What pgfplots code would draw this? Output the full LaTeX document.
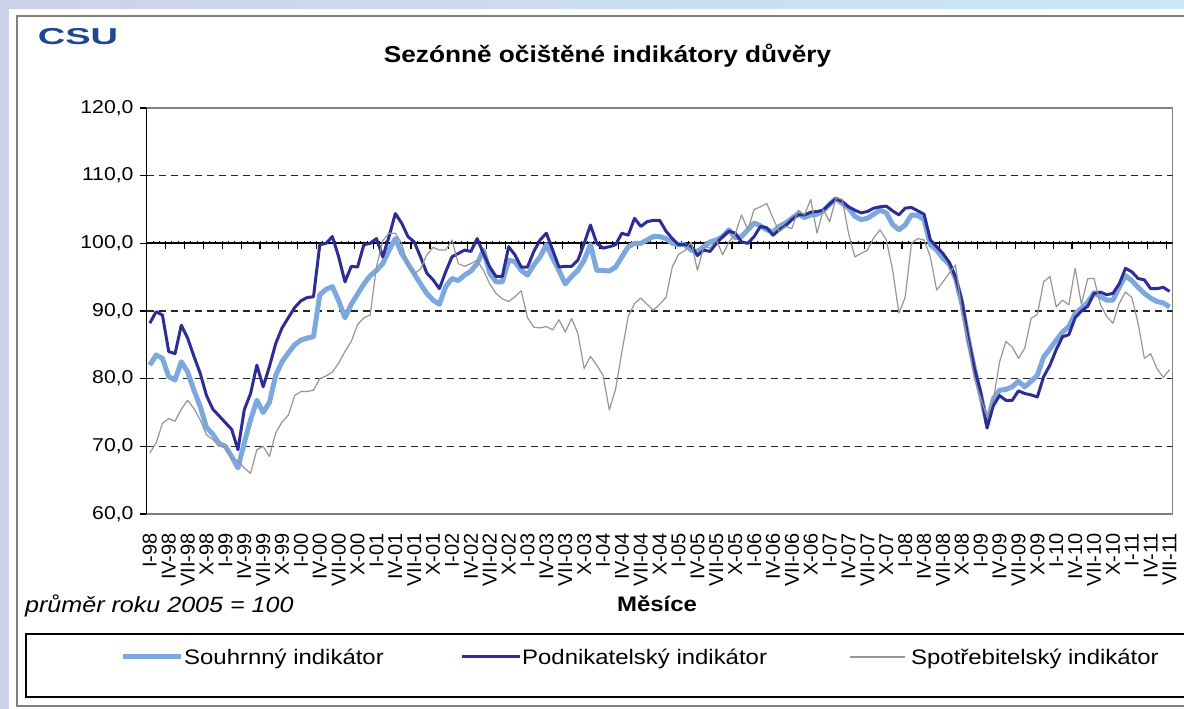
\documentclass[border=0pt]{standalone}
\usepackage{fontspec}
\setmainfont{Liberation Sans}[FakeStretch=1.14]
\newfontfamily\plainfont{Liberation Sans}
\usepackage{graphicx}
\usepackage{pgfplots}
\pgfplotsset{compat=1.18}
\usepackage{pgfplotstable}

\definecolor{cS}{RGB}{124,168,222}
\definecolor{cP}{RGB}{45,45,150}
\definecolor{cC}{RGB}{150,150,150}
\definecolor{bgA}{RGB}{205,210,235}
\definecolor{bgB}{RGB}{200,232,246}
\definecolor{logoblue}{RGB}{30,70,145}
\definecolor{frame}{RGB}{128,128,128}

\pgfplotstableread{
m S P C
0 82.0 88.2 69.0
1 83.5 89.9 70.5
2 83.0 89.4 73.4
3 80.3 84.0 74.1
4 79.8 83.7 73.7
5 82.5 87.9 75.5
6 81.0 86.0 76.8
7 78.3 83.3 75.6
8 75.9 80.8 73.9
9 72.8 77.5 71.7
10 71.8 75.5 71.0
11 70.4 74.5 70.0
12 70.0 73.5 70.0
13 68.5 72.5 68.2
14 66.8 69.5 67.9
15 70.5 75.4 66.8
16 73.9 77.8 66.0
17 76.8 82.0 69.5
18 75.0 78.8 70.0
19 76.5 81.8 68.5
20 80.5 85.2 72.0
21 82.5 87.5 73.6
22 83.8 89.0 74.6
23 85.0 90.5 77.5
24 85.7 91.5 78.1
25 86.0 92.0 78.1
26 86.2 92.1 78.3
27 92.4 99.8 80.0
28 93.2 100.0 80.4
29 93.6 101.0 81.0
30 91.5 98.0 82.3
31 89.0 94.3 84.0
32 91.0 96.6 85.5
33 92.5 96.5 88.0
34 94.0 99.8 89.0
35 95.2 100.0 89.4
36 96.0 100.7 96.5
37 97.0 98.0 100.4
38 99.0 101.0 101.5
39 100.7 104.4 101.5
40 98.5 103.0 100.0
41 97.0 101.0 96.6
42 95.5 100.2 95.5
43 94.0 98.0 96.2
44 92.6 95.6 98.3
45 91.6 94.6 99.4
46 91.0 93.3 99.0
47 93.6 95.8 99.0
48 94.8 98.0 100.5
49 94.5 98.5 97.0
50 95.3 99.0 96.6
51 95.9 98.8 97.0
52 97.0 100.7 97.5
53 99.0 98.5 96.0
54 95.6 96.5 94.0
55 94.3 95.1 92.6
56 94.3 95.1 91.8
57 97.5 99.5 91.4
58 97.3 98.3 92.1
59 96.0 96.5 93.0
60 95.3 96.5 89.0
61 96.8 98.8 87.6
62 98.0 100.5 87.5
63 99.8 101.5 87.7
64 97.8 99.0 87.2
65 96.0 96.5 88.7
66 94.0 96.6 86.9
67 95.1 96.6 88.9
68 96.0 97.5 86.7
69 97.5 100.0 81.5
70 99.8 102.7 83.3
71 96.0 100.0 82.0
72 96.0 99.3 80.5
73 95.9 99.5 75.4
74 96.5 99.8 78.5
75 98.0 101.5 84.0
76 99.5 101.2 89.2
77 100.0 103.7 91.1
78 100.0 102.5 91.9
79 100.5 103.2 91.0
80 101.0 103.4 90.1
81 101.0 103.4 91.0
82 100.7 101.8 92.0
83 100.0 100.7 96.5
84 99.8 99.8 98.4
85 99.8 99.8 98.9
86 99.0 99.6 100.2
87 98.8 98.2 96.0
88 99.5 99.0 99.5
89 100.2 98.8 99.3
90 100.5 100.0 100.5
91 101.0 101.0 98.3
92 102.0 101.8 100.2
93 100.8 101.5 101.4
94 101.0 100.2 104.2
95 102.0 100.0 102.0
96 103.0 101.0 105.0
97 102.6 102.5 105.4
98 102.0 102.3 105.9
99 101.7 101.2 103.7
100 102.5 102.0 101.7
101 103.0 102.6 102.5
102 103.7 103.5 102.2
103 104.4 104.2 104.9
104 103.8 104.2 104.2
105 104.2 104.6 106.5
106 104.3 104.7 101.5
107 104.8 104.9 105.0
108 105.8 105.8 103.2
109 106.6 106.6 106.7
110 105.9 106.2 106.5
111 105.2 105.4 101.5
112 104.0 104.9 98.0
113 103.5 104.5 98.5
114 103.7 104.7 99.0
115 104.3 105.2 100.8
116 104.9 105.4 102.0
117 104.5 105.5 100.5
118 102.8 104.8 96.1
119 102.0 104.2 89.7
120 102.7 105.2 92.0
121 104.2 105.3 100.0
122 104.1 104.8 100.7
123 103.5 104.3 100.5
124 99.8 100.5 98.0
125 99.0 99.5 93.1
126 97.8 98.5 94.3
127 96.9 97.2 95.6
128 94.8 95.0 96.8
129 91.1 91.6 90.0
130 86.0 86.0 85.5
131 81.5 81.5 80.0
132 77.5 78.0 77.1
133 73.4 72.7 74.3
134 77.0 76.0 76.8
135 78.3 77.5 82.5
136 78.4 76.8 85.5
137 78.8 76.8 84.7
138 79.6 78.2 83.0
139 78.8 77.8 84.5
140 79.6 77.6 88.9
141 80.5 77.3 89.5
142 83.2 80.3 94.3
143 84.4 82.0 95.1
144 85.7 84.3 90.6
145 86.9 86.2 91.6
146 87.7 86.5 90.9
147 89.6 89.0 96.3
148 90.4 90.0 91.0
149 91.3 90.7 94.8
150 92.7 92.6 94.8
151 92.1 92.8 91.0
152 91.6 92.4 89.2
153 91.6 92.6 88.2
154 93.5 94.0 91.1
155 95.2 96.3 92.8
156 94.5 95.8 92.0
157 93.5 94.8 88.2
158 92.6 94.6 83.0
159 91.9 93.3 83.7
160 91.4 93.3 81.5
161 91.2 93.5 80.2
162 90.6 92.9 81.3
}\datatable

\begin{document}
\begin{tikzpicture}[x=1pt,y=1pt]
\path[use as bounding box] (0,0) rectangle (1184,709);
\begin{scope}
\clip (0,0) rectangle (1184,709);
\fill[left color=bgA, right color=bgB] (0,0) rectangle (1184,709);
\fill[white] (9,0) rectangle (1190,700);
\draw[frame, line width=1.5pt] (17,3) rectangle (1200,693);
% legend box
\draw[black, line width=1.3pt] (26,12) rectangle (1195,75);
\end{scope}

% logo and title
\node[inner sep=0pt] at (78,672.5) {\color{logoblue}\scalebox{1.45}[1]{\fontsize{23}{23}\selectfont\bfseries CSU}};
\node[anchor=base, inner sep=0pt] at (607.5,646) {\fontsize{23}{23}\selectfont\bfseries Sezónně očištěné indikátory důvěry};

\begin{axis}[
  at={(146.7pt,195pt)}, anchor=south west,
  scale only axis, width=1026pt, height=406pt,
  xmin=-0.5, xmax=162.5, ymin=60, ymax=120,
  axis line style={draw=frame, line width=1.2pt},
  tick align=outside,
  major tick length=7pt,
  xtick={0,3,...,162},
  xticklabels={I-98,IV-98,VII-98,X-98,I-99,IV-99,VII-99,X-99,I-00,IV-00,VII-00,X-00,I-01,IV-01,VII-01,X-01,I-02,IV-02,VII-02,X-02,I-03,IV-03,VII-03,X-03,I-04,IV-04,VII-04,X-04,I-05,IV-05,VII-05,X-05,I-06,IV-06,VII-06,X-06,I-07,IV-07,VII-07,X-07,I-08,IV-08,VII-08,X-08,I-09,IV-09,VII-09,X-09,I-10,IV-10,VII-10,X-10,I-11,IV-11,VII-11},
  xtick style={draw=none},
  xticklabel pos=lower,
  xticklabel style={font=\plainfont\fontsize{20}{20}\selectfont, rotate=90, anchor=east, inner sep=0pt},
  xticklabel shift=12pt,
  ytick={60,70,...,120},
  yticklabels={{60,0},{70,0},{80,0},{90,0},{100,0},{110,0},{120,0}},
  ytick pos=left,
  ytick style={black, line width=1.2pt},
  yticklabel style={font=\fontsize{18.6}{18.6}\selectfont, anchor=east, inner sep=0pt},
  yticklabel shift=6pt,
  line join=round,
]
% grid lines
\pgfplotsinvokeforeach{70,80,90,110}{
  \draw[black!85, line width=1.3pt, dash pattern=on 7pt off 5pt] (axis cs:-0.5,#1) -- (axis cs:162.5,#1);
}
% 100 line with ticks
\draw[black, line width=1.8pt] (axis cs:-0.5,100) -- (axis cs:162.5,100);
\pgfplotsinvokeforeach{2.5,5.5,...,161.5}{
  \draw[black, line width=1.2pt] (axis cs:#1,100) -- ++(0pt,-6pt);
}
\pgfplotsinvokeforeach{0.5,1.5,...,161.5}{
  \draw[black, line width=0.9pt] (axis cs:#1,100) -- ++(0pt,2.5pt);
}
\addplot[cS, line width=5pt, line join=round] table[x=m,y=S] {\datatable};
\addplot[cP, line width=3pt, line join=round] table[x=m,y=P] {\datatable};
\addplot[cC, line width=1.2pt, line join=round] table[x=m,y=C] {\datatable};
\end{axis}
% left axis spine black
\draw[black, line width=1.5pt] (146.7,195) -- (146.7,601);

% axis descriptions
\node[inner sep=0pt] at (657,105) {\fontsize{21}{21}\selectfont\bfseries Měsíce};
\node[anchor=west, inner sep=0pt] at (25,103) {\fontsize{22}{22}\selectfont\itshape průměr roku 2005 = 100};

% legend
\draw[cS, line width=5pt] (123,52) -- (181,52);
\node[anchor=base west, inner sep=0pt] at (184,44.5) {\fontsize{21}{21}\selectfont Souhrnný indikátor};
\draw[cP, line width=3pt] (462,52) -- (520,52);
\node[anchor=base west, inner sep=0pt] at (522,44.5) {\fontsize{21}{21}\selectfont Podnikatelský indikátor};
\draw[cC, line width=1.2pt] (850,52) -- (905,52);
\node[anchor=base west, inner sep=0pt] at (911,44.5) {\fontsize{21}{21}\selectfont Spotřebitelský indikátor};
\end{tikzpicture}
\end{document}
